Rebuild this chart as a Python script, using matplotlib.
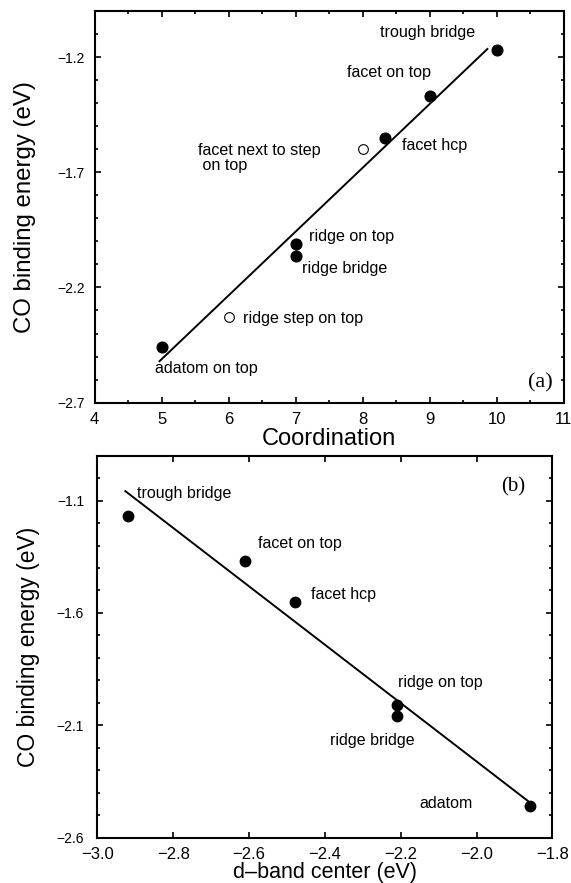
import numpy as np
import matplotlib
matplotlib.use('Agg')
import matplotlib.pyplot as plt
from matplotlib.ticker import MultipleLocator, FuncFormatter

plt.rcParams['font.family'] = ['Liberation Sans', 'DejaVu Sans']
plt.rcParams['axes.unicode_minus'] = True

# panel (a): coordination vs CO binding energy
coord_filled = [10, 9, 8.33, 7, 7, 5]
ebind_filled_a = [-1.17, -1.37, -1.55, -2.01, -2.063, -2.46]
coord_open = [8, 6]
ebind_open_a = [-1.60, -2.33]
fit_a_x = [4.97, 9.86]
fit_a_y = [-2.52, -1.165]
labels_a = ['trough bridge', 'facet on top', 'facet hcp', 'facet next to step\n on top',
            'ridge on top', 'ridge bridge', 'ridge step on top', 'adatom on top']
label_a_x = [8.26, 7.77, 8.58, 5.55, 7.20, 7.10, 6.21, 4.90]
label_a_y = [-1.094, -1.268, -1.586, -1.638, -1.980, -2.117, -2.334, -2.551]

# panel (b): d-band center vs CO binding energy
dband = [-2.92, -2.61, -2.48, -2.21, -2.21, -1.86]
ebind_b = [-1.17, -1.37, -1.55, -2.01, -2.06, -2.46]
fit_b_x = [-2.926, -1.865]
fit_b_y = [-1.058, -2.436]
labels_b = ['trough bridge', 'facet on top', 'facet hcp', 'ridge on top', 'ridge bridge', 'adatom']
label_b_x = [-2.894, -2.575, -2.436, -2.208, -2.387, -2.150]
label_b_y = [-1.070, -1.293, -1.520, -1.911, -2.168, -2.446]

fig = plt.figure(figsize=(5.71, 8.83), dpi=100)
ax1 = fig.add_axes([0.1655, 0.544, 0.822, 0.4436])
ax2 = fig.add_axes([0.1704, 0.0513, 0.797, 0.4327])


def style(ax, ypad, xpad):
    for s in ax.spines.values():
        s.set_linewidth(1.5)
    ax.tick_params(which='both', direction='in', top=True, right=True, width=1.2)
    ax.tick_params(which='major', length=4.5)
    ax.tick_params(which='minor', length=2.5)
    ax.tick_params(axis='x', which='major', labelsize=12, pad=xpad)
    ax.tick_params(axis='y', which='major', labelsize=10, pad=ypad)


minus = FuncFormatter(lambda v, p: f'{v:.1f}'.replace('-', '\u2212'))

# (a)
ax1.plot(fit_a_x, fit_a_y, color='black', lw=1.4)
ax1.plot(coord_filled, ebind_filled_a, 'o', color='black', ms=7.7)
ax1.plot(coord_open, ebind_open_a, 'o', mfc='white', mec='black', mew=0.8, ms=7)
for t, x, y in zip(labels_a, label_a_x, label_a_y):
    ax1.text(x, y, t, fontsize=11.6, ha='left', va='center', linespacing=1.0)
ax1.text(10.84, -2.616, '(a)', fontsize=16, ha='right', va='center', family='Liberation Serif')
ax1.set_xlim(4, 11)
ax1.set_ylim(-2.7, -1.0)
ax1.set_xticks(np.arange(4, 12, 1))
ax1.xaxis.set_minor_locator(MultipleLocator(0.5))
ax1.set_yticks([-2.7, -2.2, -1.7, -1.2])
ax1.yaxis.set_major_formatter(minus)
ax1.yaxis.set_minor_locator(MultipleLocator(0.1))
style(ax1, 7, 7)
ax1.set_xlabel('Coordination', fontsize=17)
ax1.set_ylabel('CO binding energy (eV)', fontsize=17.3)
ax1.xaxis.set_label_coords(0.5, -0.064)
ax1.yaxis.set_label_coords(-0.125, 0.5)

# (b)
ax2.plot(fit_b_x, fit_b_y, color='black', lw=1.4)
ax2.plot(dband, ebind_b, 'o', color='black', ms=7.5)
for t, x, y in zip(labels_b, label_b_x, label_b_y):
    ax2.text(x, y, t, fontsize=11.5, ha='left', va='center')
ax2.text(-1.934, -1.0375, '(b)', fontsize=15, ha='left', va='center', family='Liberation Serif')
ax2.set_xlim(-3.0, -1.8)
ax2.set_ylim(-2.6, -0.9)
ax2.set_xticks(np.arange(-3.0, -1.75, 0.2))
ax2.xaxis.set_major_formatter(minus)
ax2.set_yticks([-2.6, -2.1, -1.6, -1.1])
ax2.yaxis.set_major_formatter(minus)
ax2.yaxis.set_minor_locator(MultipleLocator(0.1))
style(ax2, 9.5, 7)
ax2.set_xlabel('d\u2013band center (eV)', fontsize=15.5)
ax2.set_ylabel('CO binding energy (eV)', fontsize=16.5)
ax2.xaxis.set_label_coords(0.5, -0.064)
ax2.yaxis.set_label_coords(-0.126, 0.5)

fig.savefig('out.png', dpi=100)
